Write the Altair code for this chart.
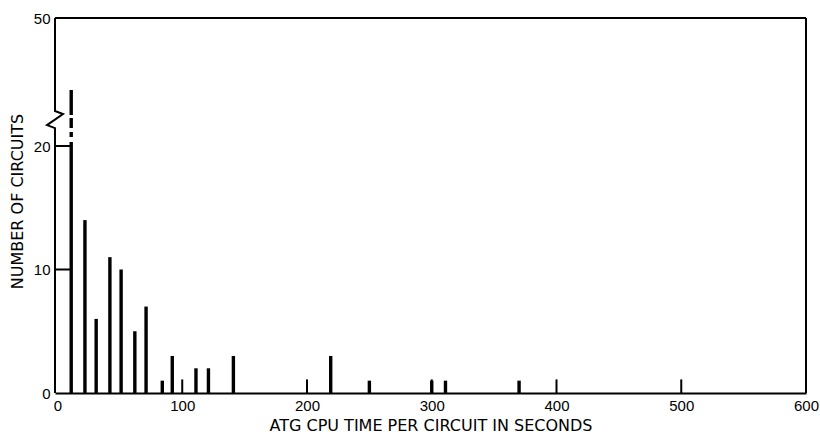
import altair as alt
import pandas as pd

# ---- data ----
time_s = [11, 22, 31, 42, 51, 62, 71, 84, 92, 111, 121, 141, 219, 250, 300, 311, 370]
circuits = [33.1, 14, 6, 11, 10, 5, 7, 1, 3, 2, 2, 3, 3, 1, 1, 1, 1]

x_tick_values = [0, 100, 200, 300, 400, 500, 600]
y_tick_values = [0, 10, 20, 50]
inner_x_ticks = [100, 200, 300, 400, 500]
inner_y_ticks = [10, 20]

# axis break (left frame zig-zag) and gaps in the broken first bar, in data units
break_x = [-2, -2, -8.4, 4.4, -2, -2]
break_y = [0, 24.2, 24.9, 27.5, 28.2, 50]
gap_lo = [20.94, 23.28, 26.56]
gap_hi = [22.11, 24.22, 27.27]

X_MIN, X_MAX = -2, 600
W, H = 751, 375

bars = pd.DataFrame({"time": time_s, "count": circuits, "base": [0] * len(time_s)})
left = pd.DataFrame({"x": break_x, "y": break_y, "i": list(range(len(break_x)))})
frame = pd.DataFrame({"x": [X_MIN, X_MAX], "x2": [X_MAX, X_MAX], "y": [50, 0], "y2": [50, 50]})
ticks = pd.DataFrame({
    "x": inner_x_ticks + [X_MIN] * len(inner_y_ticks),
    "x2": inner_x_ticks + [10] * len(inner_y_ticks),
    "y": [0] * len(inner_x_ticks) + inner_y_ticks,
    "y2": [1.1] * len(inner_x_ticks) + inner_y_ticks,
})
gaps = pd.DataFrame({"x": [time_s[0]] * 3, "y": gap_lo, "y2": gap_hi})

xs = alt.Scale(domain=[X_MIN, X_MAX], nice=False, zero=False)
ys = alt.Scale(domain=[0, 20, 50], range=[H, 128, 0], nice=False, zero=False)

LABEL_FONT = "Liberation Sans"
TITLE_FONT = "DejaVu Sans"

x_axis = alt.Axis(
    values=x_tick_values, ticks=False, tickSize=0, grid=False,
    domain=True, domainColor="black", domainWidth=2,
    labelFont=LABEL_FONT, labelFontSize=15, labelColor="black", labelPadding=5,
    labelFlush=False, labelOverlap=False,
    title="ATG CPU TIME PER CIRCUIT IN SECONDS", titleFont=TITLE_FONT,
    titleFontSize=16, titleFontWeight="normal", titleColor="black",
    titleY=32, titleBaseline="middle",
)
y_axis = alt.Axis(
    values=y_tick_values, ticks=False, tickSize=0, grid=False, domain=False,
    labelFont=LABEL_FONT, labelFontSize=15, labelColor="black", labelPadding=5,
    labelOverlap=False, labelFlush=False,
    title="NUMBER OF CIRCUITS", titleFont=TITLE_FONT, titleFontSize=16,
    titleFontWeight="normal", titleColor="black", titleAngle=270,
    titleX=-38, titleY=183, titleAlign="center", titleBaseline="middle",
)

bar_layer = alt.Chart(bars).mark_rule(color="black", strokeWidth=3.4).encode(
    x=alt.X("time:Q", scale=xs, axis=x_axis),
    y=alt.Y("count:Q", scale=ys, axis=y_axis),
    y2="base:Q",
)
tick_layer = alt.Chart(ticks).mark_rule(color="black", strokeWidth=2).encode(
    x=alt.X("x:Q", scale=xs, axis=x_axis), x2="x2:Q",
    y=alt.Y("y:Q", scale=ys, axis=y_axis), y2="y2:Q",
)
gap_layer = alt.Chart(gaps).mark_rule(color="white", strokeWidth=7).encode(
    x=alt.X("x:Q", scale=xs, axis=x_axis),
    y=alt.Y("y:Q", scale=ys, axis=y_axis), y2="y2:Q",
)
frame_layer = alt.Chart(frame).mark_rule(color="black", strokeWidth=2).encode(
    x=alt.X("x:Q", scale=xs, axis=x_axis), x2="x2:Q",
    y=alt.Y("y:Q", scale=ys, axis=y_axis), y2="y2:Q",
)
left_layer = alt.Chart(left).mark_line(color="black", strokeWidth=2).encode(
    x=alt.X("x:Q", scale=xs, axis=x_axis),
    y=alt.Y("y:Q", scale=ys, axis=y_axis),
    order="i:Q",
)

chart = alt.layer(bar_layer, tick_layer, gap_layer, frame_layer, left_layer).properties(
    width=W, height=H,
    autosize=alt.AutoSizeParams(type="none"),
    padding={"left": 55, "top": 18, "right": 14, "bottom": 44},
    background="white",
).configure_view(stroke=None)

chart.save("out.html", embed_options={"renderer": "svg", "actions": False})
